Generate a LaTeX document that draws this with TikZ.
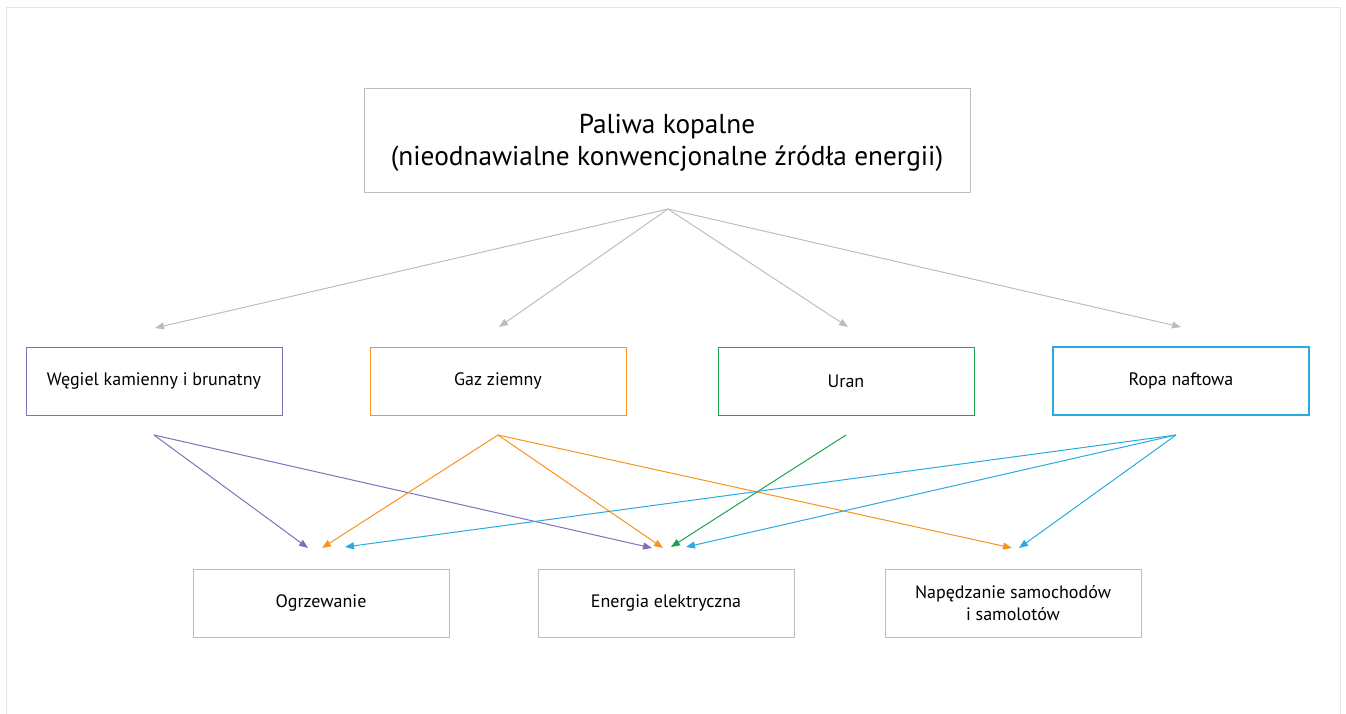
\documentclass[tikz,border=0pt]{standalone}
\usepackage{fontspec}
\setmainfont{PT Sans}
\usetikzlibrary{arrows.meta}

\definecolor{coalc}{HTML}{7F71B8}
\definecolor{gasc}{HTML}{F7931E}
\definecolor{uranc}{HTML}{1BA34F}
\definecolor{oilblue}{RGB}{41,171,226}
\definecolor{boxc}{HTML}{BDBDBD}

\begin{document}
\begin{tikzpicture}[
  x=1pt, y=-1pt,
  box/.style={draw, minimum width=256pt, minimum height=68pt, align=center,
    font=\fontsize{18}{22}\selectfont, inner sep=0pt, line width=1pt},
  top/.style={draw=boxc, minimum width=606pt, minimum height=104pt, align=center,
    font=\fontsize{27.3}{32}\selectfont, inner sep=0pt, line width=1pt},
  >={Triangle[length=9pt,width=7pt]}, line width=1pt
]
  \useasboundingbox (0,0) rectangle (1346,713);
  \draw[black!10, line width=1.5pt] (6.5,7.5) rectangle (1340.5,740);

  \node[top, text depth=0pt] (fuel) at (667,140) {Paliwa kopalne\\(nieodnawialne konwencjonalne źródła energii)};

  \node[box, draw=coalc] (coal) at (154,381) {Węgiel kamienny i brunatny};
  \node[box, draw=gasc]  (gas)  at (498,381) {Gaz ziemny};
  \node[box, draw=uranc] (uran) at (846,381) {Uran};
  \node[box, draw=oilblue, line width=1.1pt] (oil) at (1181,381) {Ropa naftowa};

  \node[box, draw=boxc] (heat) at (321,603) {Ogrzewanie};
  \node[box, draw=boxc] (elec) at (666,603) {Energia elektryczna};
  \node[box, draw=boxc] (cars) at (1013,603) {Napędzanie samochodów\\i samolotów};

  % points below the boxes
  \coordinate (apex) at (668,209);
  \coordinate (coal in) at (155,328);
  \coordinate (gas in)  at (499,327);
  \coordinate (uran in) at (848,327);
  \coordinate (oil in)  at (1181,327);
  \coordinate (coal out) at (154,435);
  \coordinate (gas out)  at (498,435);
  \coordinate (uran out) at (846,435);
  \coordinate (oil out)  at (1176,435);

  \draw[->, boxc] (apex) -- (coal in);
  \draw[->, boxc] (apex) -- (gas in);
  \draw[->, boxc] (apex) -- (uran in);
  \draw[->, boxc] (apex) -- (oil in);

  \coordinate (heat a) at (308,548);
  \coordinate (heat b) at (322,548);
  \coordinate (heat c) at (345,547);
  \coordinate (elec a) at (652,548);
  \coordinate (elec b) at (663,548);
  \coordinate (elec c) at (671,547);
  \coordinate (elec d) at (686,547);
  \coordinate (cars a) at (1012,548);
  \coordinate (cars b) at (1019,548);

  \draw[->, coalc] (coal out) -- (heat a);
  \draw[->, coalc] (coal out) -- (elec a);
  \draw[->, gasc] (gas out) -- (heat b);
  \draw[->, gasc] (gas out) -- (elec b);
  \draw[->, gasc] (gas out) -- (cars a);
  \draw[->, uranc] (uran out) -- (elec c);
  \draw[->, oilblue] (oil out) -- (heat c);
  \draw[->, oilblue] (oil out) -- (elec d);
  \draw[->, oilblue] (oil out) -- (cars b);
\end{tikzpicture}
\end{document}
